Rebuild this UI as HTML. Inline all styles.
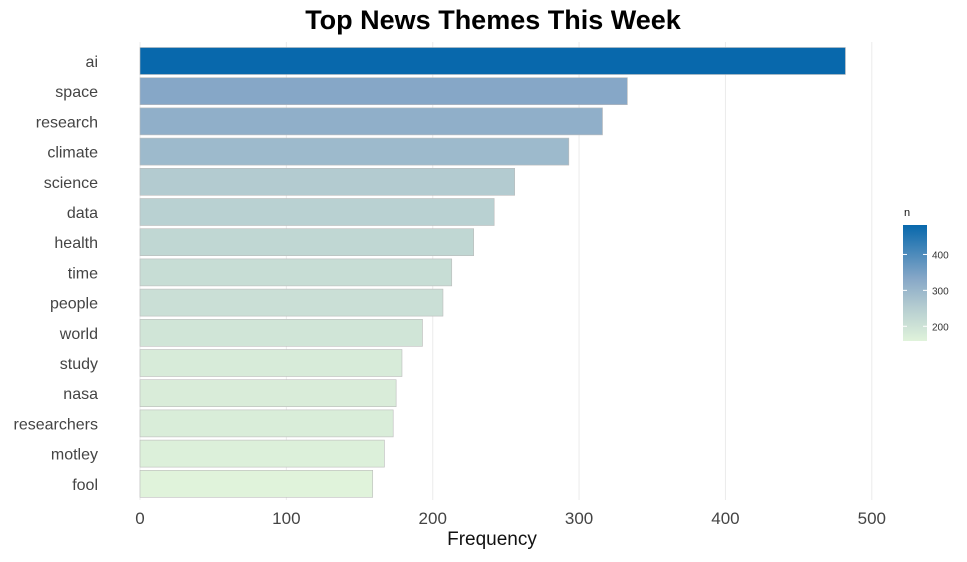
<!DOCTYPE html>
<html><head><meta charset="utf-8">
<style>
body{margin:0;background:#fff;font-family:"Liberation Sans",sans-serif;}
svg text{font-family:"Liberation Sans",sans-serif;}
</style></head>
<body>
<svg width="967" height="557">
<rect width="967" height="557" fill="#fff"/>
<text x="493" y="29" text-anchor="middle" font-size="27" font-weight="bold" fill="#000">Top News Themes This Week</text>
<g id="grid"></g>
<g id="bars"></g>
<g id="ylabels"></g>
<g id="xticks"></g>
<text x="492" y="545" text-anchor="middle" font-size="19" fill="#111">Frequency</text>
<g id="legend">
<defs><linearGradient id="lg" x1="0" y1="1" x2="0" y2="0">
<stop offset="0" stop-color="#e0f3db"/><stop offset="0.3" stop-color="#b3cbd0"/><stop offset="0.54" stop-color="#86a7c7"/><stop offset="1" stop-color="#0868ac"/>
</linearGradient></defs>
<text x="904" y="216" font-size="11" fill="#111">n</text>
<rect x="903" y="225" width="24" height="116" fill="url(#lg)"/>
</g>
</svg>
<script>
const categories=["ai","space","research","climate","science","data","health","time","people","world","study","nasa","researchers","motley","fool"];
const values=[482,333,316,293,256,242,228,213,207,193,179,175,173,167,159];
const xTicks=[0,100,200,300,400,500];
const legendTicks=[200,300,400];
const NS="http://www.w3.org/2000/svg";
const x=v=>140+v*1.4636;
const y=i=>61+i*30.2;
const vmin=159,vmax=482;
const stops=[[0,[224,243,219]],[0.3,[179,203,208]],[0.54,[134,167,199]],[1,[8,104,172]]];
function col(v){let t=(v-vmin)/(vmax-vmin);t=Math.max(0,Math.min(1,t));
for(let k=1;k<stops.length;k++){if(t<=stops[k][0]){const a=stops[k-1],b=stops[k];const u=(t-a[0])/(b[0]-a[0]);
return "rgb("+a[1].map((c,j)=>Math.round(c+(b[1][j]-c)*u)).join(",")+")";}}return "rgb(8,104,172)";}
function mk(tag,attrs,parent){const e=document.createElementNS(NS,tag);for(const k in attrs)e.setAttribute(k,attrs[k]);document.getElementById(parent).appendChild(e);return e;}
xTicks.forEach(t=>{
const l=mk("line",{x1:x(t),x2:x(t),y1:42,y2:500,stroke:"#ebebeb","stroke-width":1},"grid");


const tx=mk("text",{x:x(t),y:524,"text-anchor":"middle","font-size":17,fill:"#444"},"xticks");
tx.textContent=t;


});
categories.forEach((c,i)=>{
const r=mk("rect",{x:x(0),y:y(i)-13.5,width:x(values[i])-x(0),height:27,fill:col(values[i]),stroke:"#bbbbbb","stroke-width":0.6},"bars");


const t=mk("text",{x:98,y:y(i)+6,"text-anchor":"end","font-size":16,fill:"#444"},"ylabels");
t.textContent=c;


});
legendTicks.forEach(v=>{
const yy=225+(vmax-v)/(vmax-vmin)*116;
mk("line",{x1:903,x2:907,y1:yy,y2:yy,stroke:"#fff"},"legend");
mk("line",{x1:923,x2:927,y1:yy,y2:yy,stroke:"#fff"},"legend");
const t=mk("text",{x:932,y:yy+4,"font-size":10,fill:"#333"},"legend");
t.textContent=v;


});
</script>
</body></html>
